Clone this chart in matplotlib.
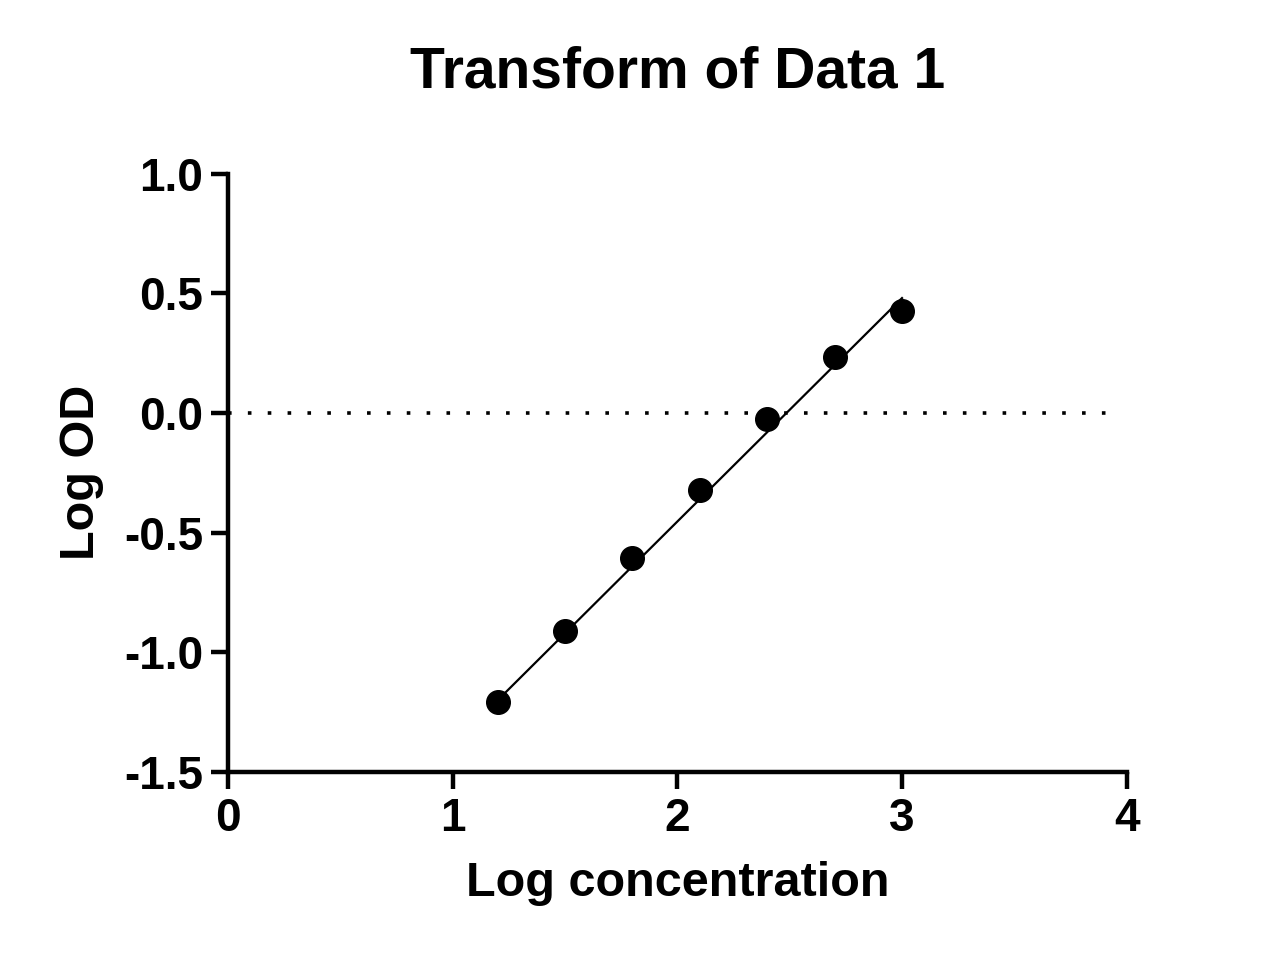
import matplotlib
matplotlib.use("Agg")
import matplotlib.pyplot as plt

# data
log_conc = [1.2, 1.5, 1.8, 2.1, 2.4, 2.7, 3.0]
log_od = [-1.207, -0.911, -0.605, -0.321, -0.024, 0.235, 0.427]
fit_x = [1.2, 3.0]
fit_y = [-1.20, 0.48]
x_ticks = [0, 1, 2, 3, 4]
y_ticks = [-1.5, -1.0, -0.5, 0.0, 0.5, 1.0]

plt.rcParams["font.family"] = ["Liberation Sans", "DejaVu Sans"]
plt.rcParams["font.weight"] = "bold"

fig = plt.figure(figsize=(12.66, 9.75), dpi=100)
ax = fig.add_axes([0.180, 0.208, 0.710, 0.614])

ax.plot([0, 3.95], [0, 0], linestyle=(0, (1, 4.5)), color="black", lw=2.6)
ax.plot(fit_x, fit_y, color="black", lw=1.6)
ax.plot(log_conc, log_od, "o", color="black", markersize=17, clip_on=False, zorder=3)

ax.set_xlim(0, 4)
ax.set_ylim(-1.5, 1.0)
ax.set_xticks(x_ticks)
ax.set_yticks(y_ticks)
ax.set_xticklabels([str(t) for t in x_ticks])
ax.set_yticklabels([f"{t:.1f}" for t in y_ticks])
for s in ["top", "right"]:
    ax.spines[s].set_visible(False)
for s in ["left", "bottom"]:
    ax.spines[s].set_linewidth(3.2)
ax.tick_params(width=3.2, length=12, labelsize=33, pad=6)

ax.set_xlabel("Log concentration", fontsize=35, fontweight="bold", labelpad=14)
ax.set_ylabel("Log OD", fontsize=35, fontweight="bold", labelpad=14)
ax.set_title("Transform of Data 1", fontsize=41, fontweight="bold", pad=62)

fig.savefig("out.png", dpi=100)
